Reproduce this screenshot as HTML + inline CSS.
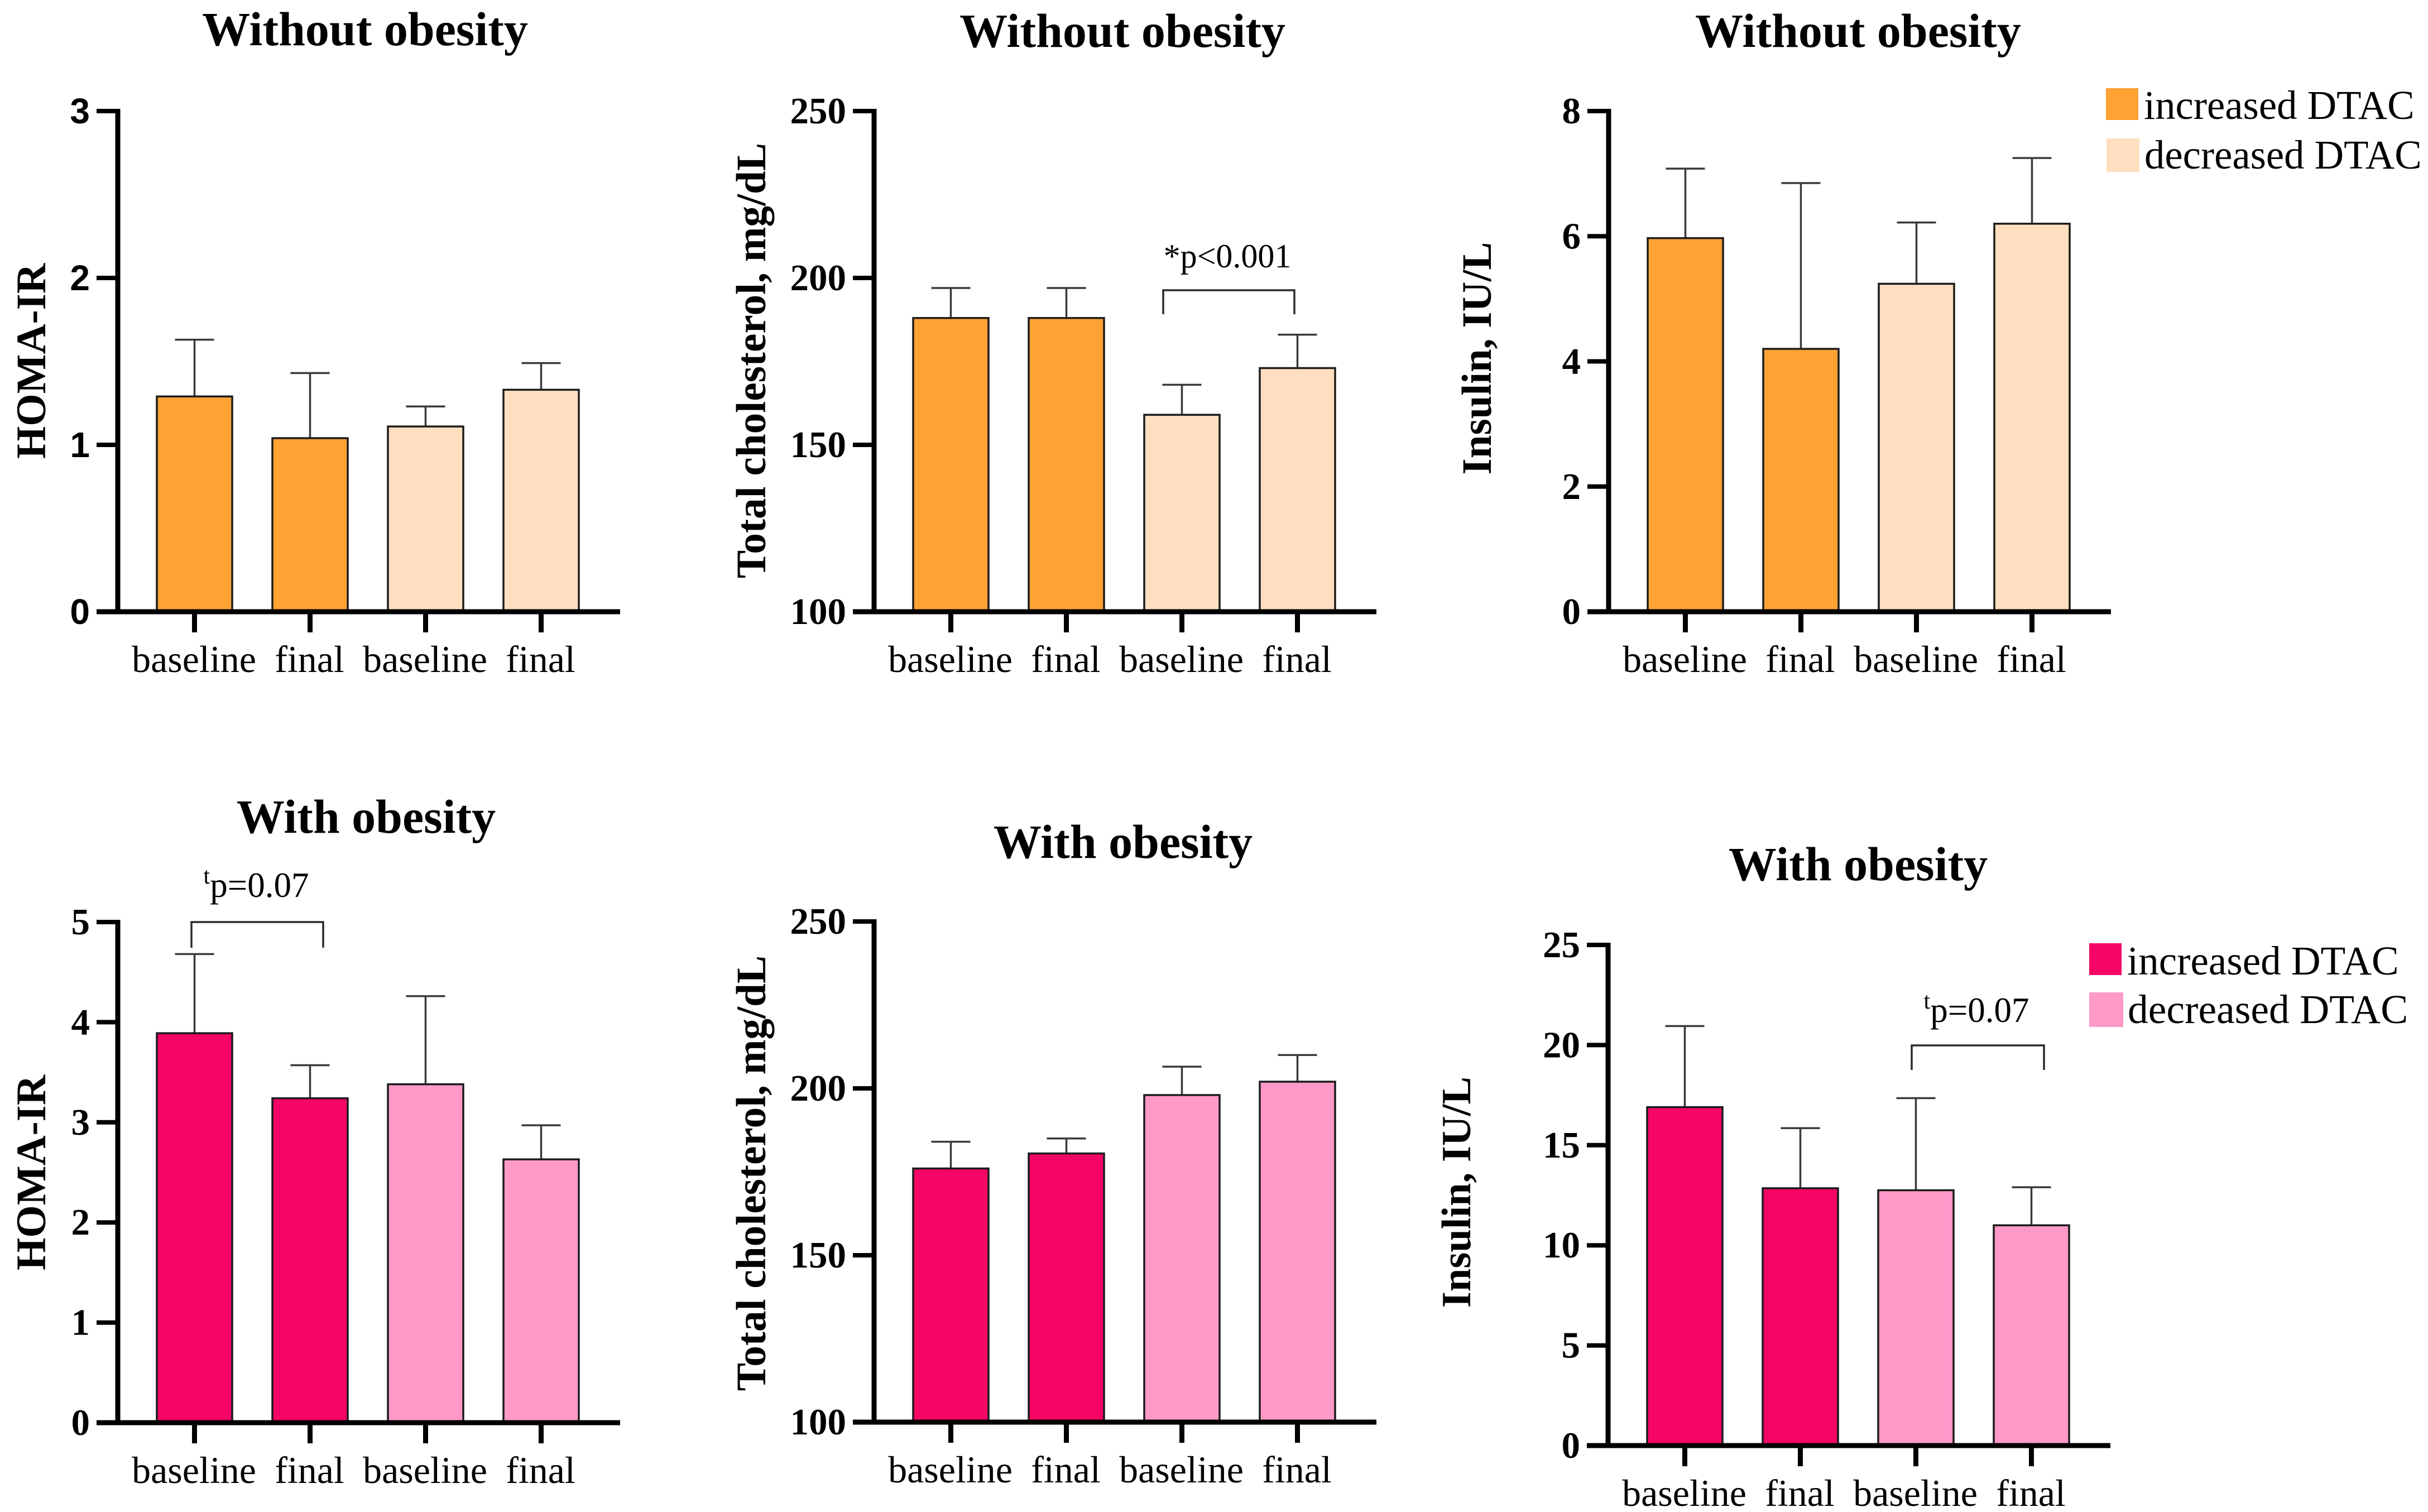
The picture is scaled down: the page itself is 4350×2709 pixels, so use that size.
<!DOCTYPE html>
<html lang="en">
<head>
<meta charset="utf-8">
<title>DTAC and metabolic markers by obesity status</title>
<style>
html,body{margin:0;padding:0;background:#fff;}
body{width:4350px;height:2709px;overflow:hidden;}
svg{display:block;}
text{font-family:"Liberation Serif",serif;fill:#000;}
</style>
</head>
<body>
<svg id="figure" xmlns="http://www.w3.org/2000/svg" width="4350" height="2709" viewBox="0 0 4350 2709">
  <rect width="4350" height="2709" fill="#fff"/>
  <g>
    <rect x="3773" y="158" width="58" height="57" fill="#FFA233"/>
    <text x="3841" y="213" font-size="72.7">increased DTAC</text>
    <rect x="3774" y="248" width="59" height="60" fill="#FFDFBF"/>
    <text x="3842" y="302" font-size="72.7">decreased DTAC</text>
  </g>
  <g>
    <rect x="3743" y="1690" width="58" height="57" fill="#F40566"/>
    <text x="3811" y="1746" font-size="73">increased DTAC</text>
    <rect x="3743" y="1778" width="61" height="62" fill="#FF99C8"/>
    <text x="3812" y="1833" font-size="73.5">decreased DTAC</text>
  </g>
</svg>
<script>
// Shared categories
const categories = ['baseline', 'final', 'baseline', 'final'];

// Panel 1: HOMA-IR, without obesity
const homaWithoutTicks = [0, 1, 2, 3];
const homaWithoutMeans = [1.29, 1.04, 1.11, 1.33];
const homaWithoutUpper = [1.63, 1.43, 1.23, 1.49];

// Panel 2: total cholesterol, without obesity
const cholWithoutTicks = [100, 150, 200, 250];
const cholWithoutMeans = [188, 188, 159, 173];
const cholWithoutUpper = [197, 197, 168, 183];

// Panel 3: insulin, without obesity
const insulinWithoutTicks = [0, 2, 4, 6, 8];
const insulinWithoutMeans = [5.97, 4.2, 5.24, 6.2];
const insulinWithoutUpper = [7.08, 6.85, 6.22, 7.25];

// Panel 4: HOMA-IR, with obesity
const homaWithTicks = [0, 1, 2, 3, 4, 5];
const homaWithMeans = [3.89, 3.24, 3.38, 2.63];
const homaWithUpper = [4.68, 3.57, 4.26, 2.97];

// Panel 5: total cholesterol, with obesity
const cholWithTicks = [100, 150, 200, 250];
const cholWithMeans = [176, 180.5, 198, 202];
const cholWithUpper = [184, 185, 206.5, 210];

// Panel 6: insulin, with obesity
const insulinWithTicks = [0, 5, 10, 15, 20, 25];
const insulinWithMeans = [16.9, 12.85, 12.75, 11];
const insulinWithUpper = [20.95, 15.85, 17.35, 12.9];

const SVG_NS = 'http://www.w3.org/2000/svg';
const svg = document.getElementById('figure');

function node(parent, tag, attrs, text) {
  const el = document.createElementNS(SVG_NS, tag);
  for (const k in attrs) el.setAttribute(k, attrs[k]);
  if (text !== undefined) el.textContent = text;
  parent.appendChild(el);
  return el;
}

function drawPanel(cfg) {
  const AXIS_W = 900;
  const g = node(svg, 'g', {});
  
  

  const ticks = cfg.ticks;
  const yMin = ticks[0];
  const yMax = ticks[ticks.length - 1];
  const yScale = v => cfg.y0 - (v - yMin) / (yMax - yMin) * (cfg.y0 - cfg.top);
  const xScale = i => cfg.ax + 137.5 + 207 * i;
  const BAR_W = 135;
  const CAP_W = 70;

  // title
  const title = node(g, 'text', {x: cfg.titleX, y: cfg.titleY, 'text-anchor': 'middle', 'font-size': 86, 'font-weight': 'bold'}, cfg.title);
  
  

  // y-axis title
  const yt = node(g, 'text', {
    transform: 'translate(' + cfg.yTitleX + ',' + cfg.yTitleY + ') rotate(-90)',
    'text-anchor': 'middle', 'font-size': cfg.yTitleSize, 'font-weight': 'bold'
  }, cfg.yTitle);
  
  

  // bars + error bars
  cfg.means.forEach((m, i) => {
    const cx = xScale(i);
    const top = yScale(m);
    const up = yScale(cfg.upper[i]);
    const fill = i < 2 ? cfg.colors[0] : cfg.colors[1];

    const stem = node(g, 'line', {x1: cx, x2: cx, y1: up, y2: top, stroke: '#3a3a3a', 'stroke-width': 3.5});
    
    

    const cap = node(g, 'line', {x1: cx - CAP_W / 2, x2: cx + CAP_W / 2, y1: up, y2: up, stroke: '#3a3a3a', 'stroke-width': 3.5});
    
    

    const bar = node(g, 'rect', {x: cx - BAR_W / 2, y: top, width: BAR_W, height: cfg.y0 - top, fill: fill, stroke: '#1c1c1c', 'stroke-width': 3.5});
    
    

    const tick = node(g, 'line', {x1: cx, x2: cx, y1: cfg.y0, y2: cfg.y0 + 37, stroke: '#000', 'stroke-width': 9});
    
    

    const lab = node(g, 'text', {x: cx - 1, y: cfg.y0 + 108, 'text-anchor': 'middle', 'font-size': 68}, categories[i]);
    
    
  });

  // y ticks + labels
  ticks.forEach(t => {
    const y = yScale(t);
    const tl = node(g, 'line', {x1: cfg.ax - 38, x2: cfg.ax, y1: y, y2: y, stroke: '#000', 'stroke-width': 8});
    
    

    const attrs = {x: cfg.ax - 50, y: y + 22, 'text-anchor': 'end', 'font-size': cfg.sansTicks ? 64 : 67, 'font-weight': 'bold'};
    if (cfg.sansTicks) attrs.style = 'font-family:"Liberation Sans",sans-serif';
    const lab = node(g, 'text', attrs, String(t));
    
    
  });

  // axes
  const yAxis = node(g, 'line', {x1: cfg.ax, x2: cfg.ax, y1: cfg.top - 4, y2: cfg.y0 + 4, stroke: '#000', 'stroke-width': 9});
  
  
  const xAxis = node(g, 'line', {x1: cfg.ax - 38, x2: cfg.ax + AXIS_W, y1: cfg.y0, y2: cfg.y0, stroke: '#000', 'stroke-width': 9});
  
  

  // significance bracket
  if (cfg.bracket) {
    const b = cfg.bracket;
    const br = node(g, 'polyline', {
      points: b.x1 + ',' + b.y2 + ' ' + b.x1 + ',' + b.y1 + ' ' + b.x2 + ',' + b.y1 + ' ' + b.x2 + ',' + b.y2,
      fill: 'none', stroke: '#2b2b2b', 'stroke-width': 3.5
    });
    
    

    const lab = node(g, 'text', {x: b.tx, y: b.ty, 'text-anchor': 'middle', 'font-size': b.sup ? 63 : 60});
    
    
    if (b.sup) {
      node(lab, 'tspan', {'font-size': 42, dy: -24}, b.sup);
      node(lab, 'tspan', {dy: 24}, b.text);
    } else {
      lab.textContent = b.text;
    }
  }
}

const ORANGE = ['#FFA233', '#FFDFBF'];
const PINK = ['#F40566', '#FF99C8'];

drawPanel({name: 'panel-homa-ir-without-obesity', title: 'Without obesity', titleX: 654, titleY: 81,
  yTitle: 'HOMA-IR', yTitleX: 81, yTitleY: 647, yTitleSize: 75, sansTicks: true,
  ax: 211, top: 199, y0: 1096, ticks: homaWithoutTicks, means: homaWithoutMeans, upper: homaWithoutUpper, colors: ORANGE});

drawPanel({name: 'panel-cholesterol-without-obesity', title: 'Without obesity', titleX: 2011, titleY: 84,
  yTitle: 'Total cholesterol, mg/dL', yTitleX: 1371, yTitleY: 646, yTitleSize: 75.3,
  ax: 1566, top: 199, y0: 1096, ticks: cholWithoutTicks, means: cholWithoutMeans, upper: cholWithoutUpper, colors: ORANGE,
  bracket: {x1: 2084, x2: 2319, y1: 520, y2: 563, tx: 2199, ty: 479, text: '*p<0.001'}});

drawPanel({name: 'panel-insulin-without-obesity', title: 'Without obesity', titleX: 3329, titleY: 84,
  yTitle: 'Insulin, IU/L', yTitleX: 2671, yTitleY: 642, yTitleSize: 75,
  ax: 2882, top: 199, y0: 1096, ticks: insulinWithoutTicks, means: insulinWithoutMeans, upper: insulinWithoutUpper, colors: ORANGE});

drawPanel({name: 'panel-homa-ir-with-obesity', title: 'With obesity', titleX: 656, titleY: 1492,
  yTitle: 'HOMA-IR', yTitleX: 81, yTitleY: 2101, yTitleSize: 75,
  ax: 211, top: 1652, y0: 2549, ticks: homaWithTicks, means: homaWithMeans, upper: homaWithUpper, colors: PINK,
  bracket: {x1: 343, x2: 579, y1: 1652, y2: 1698, tx: 459, ty: 1607, sup: 't', text: 'p=0.07'}});

drawPanel({name: 'panel-cholesterol-with-obesity', title: 'With obesity', titleX: 2012, titleY: 1537,
  yTitle: 'Total cholesterol, mg/dL', yTitleX: 1371, yTitleY: 2102, yTitleSize: 75.3,
  ax: 1566, top: 1651, y0: 2548, ticks: cholWithTicks, means: cholWithMeans, upper: cholWithUpper, colors: PINK});

drawPanel({name: 'panel-insulin-with-obesity', title: 'With obesity', titleX: 3329, titleY: 1577,
  yTitle: 'Insulin, IU/L', yTitleX: 2634, yTitleY: 2136, yTitleSize: 74.5,
  ax: 2881, top: 1693, y0: 2590, ticks: insulinWithTicks, means: insulinWithMeans, upper: insulinWithUpper, colors: PINK,
  bracket: {x1: 3425, x2: 3662, y1: 1873, y2: 1917, tx: 3541, ty: 1831, sup: 't', text: 'p=0.07'}});
</script>
</body>
</html>
